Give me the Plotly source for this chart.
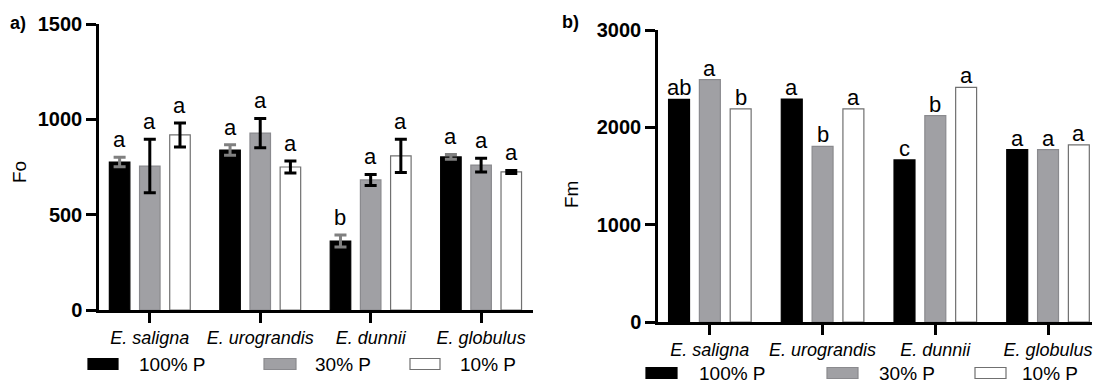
import plotly.graph_objects as go
import numpy as np

categories = ["E. saligna", "E. urograndis", "E. dunnii", "E. globulus"]
treatments = ["100% P", "30% P", "10% P"]

# Panel a: Fo
fo_100 = [776, 839, 362, 803]
fo_100_err = [25, 28, 32, 13]
fo_30 = [755, 928, 682, 760]
fo_30_err = [140, 77, 29, 36]
fo_10 = [918, 750, 808, 724]
fo_10_err = [63, 32, 87, 8]
fo_letters_100 = ["a", "a", "b", "a"]
fo_letters_30 = ["a", "a", "a", "a"]
fo_letters_10 = ["a", "a", "a", "a"]

# Panel b: Fm
fm_100 = [2288, 2290, 1665, 1770]
fm_30 = [2490, 1805, 2120, 1770]
fm_10 = [2190, 2190, 2410, 1820]
fm_letters_100 = ["ab", "a", "c", "a"]
fm_letters_30 = ["a", "b", "b", "a"]
fm_letters_10 = ["b", "a", "a", "a"]

FONT = "Liberation Sans, Arial, sans-serif"
fills = ["#000000", "#a0a0a4", "#ffffff"]
lines = ["#000000", "#8a8a8e", "#707070"]
errcols = ["#808080", "#000000", "#000000"]

BARGAP = 0.18
BARGROUPGAP = 0.32
slot = (1 - BARGAP) / 3

x = np.arange(len(categories))
W, H = 1097, 385

fig = go.Figure()

fo_vals = [fo_100, fo_30, fo_10]
fo_errs = [fo_100_err, fo_30_err, fo_10_err]
fo_lets = [fo_letters_100, fo_letters_30, fo_letters_10]
fm_vals = [fm_100, fm_30, fm_10]
fm_lets = [fm_letters_100, fm_letters_30, fm_letters_10]

annotations = []
for j, t in enumerate(treatments):
    fig.add_trace(go.Bar(
        x=x, y=fo_vals[j], name=t, xaxis="x", yaxis="y",
        marker=dict(color=fills[j], line=dict(color=lines[j], width=1.2)),
        error_y=dict(type="data", array=fo_errs[j], color=errcols[j], thickness=3, width=6),
        showlegend=False, offsetgroup=str(j),
    ))
    fig.add_trace(go.Bar(
        x=x, y=fm_vals[j], name=t, xaxis="x2", yaxis="y2",
        marker=dict(color=fills[j], line=dict(color=lines[j], width=1.2)),
        showlegend=False, offsetgroup=str(j),
    ))
    for i in range(len(categories)):
        xp = x[i] + (j - 1) * slot
        annotations.append(dict(
            x=xp, y=fo_vals[j][i] + fo_errs[j][i], xref="x", yref="y",
            text=fo_lets[j][i], showarrow=False, yanchor="bottom", yshift=3,
            font=dict(family=FONT, size=22, color="black")))
        annotations.append(dict(
            x=xp, y=fm_vals[j][i], xref="x2", yref="y2",
            text=fm_lets[j][i], showarrow=False, yanchor="bottom", yshift=-3,
            font=dict(family=FONT, size=22, color="black")))

def px(xx):
    return xx / W

def py(yy):
    return 1 - yy / H

# Panel labels and axis titles
annotations += [
    dict(x=px(8), y=py(23), xref="paper", yref="paper", text="<b>a)</b>", showarrow=False,
         xanchor="left", yanchor="middle", font=dict(family=FONT, size=18, color="black")),
    dict(x=px(560), y=py(22), xref="paper", yref="paper", text="<b>b)</b>", showarrow=False,
         xanchor="left", yanchor="middle", font=dict(family=FONT, size=18, color="black")),
    dict(x=px(20), y=py(172), xref="paper", yref="paper", text="Fo", showarrow=False,
         textangle=-90, xanchor="center", yanchor="middle", font=dict(family=FONT, size=19, color="black")),
    dict(x=px(572), y=py(195), xref="paper", yref="paper", text="Fm", showarrow=False,
         textangle=-90, xanchor="center", yanchor="middle", font=dict(family=FONT, size=19, color="black")),
]

# Legends drawn manually
shapes = []
legend_specs = [
    (364, [(88, 118, 137), (264, 296, 313), (410, 440, 458)]),
    (373, [(646, 677, 697), (827, 858, 877), (975, 1006, 1020)]),
]
for yc, items in legend_specs:
    for j, (x0, x1, xt) in enumerate(items):
        shapes.append(dict(type="rect", xref="paper", yref="paper",
                           x0=px(x0), x1=px(x1), y0=py(yc + 5.5), y1=py(yc - 5.5),
                           fillcolor=fills[j], line=dict(color=lines[j] if j else "#000000", width=1.2)))
        annotations.append(dict(x=px(xt), y=py(yc), xref="paper", yref="paper", text=treatments[j],
                                showarrow=False, xanchor="left", yanchor="middle",
                                font=dict(family=FONT, size=19, color="black")))

ticktext = ["<i>%s</i>" % c for c in categories]
xcommon = dict(showline=True, linecolor="black", linewidth=2.5, ticks="outside", ticklen=10,
               tickwidth=2.5, tickcolor="black", tickvals=list(x), ticktext=ticktext,
               tickfont=dict(family=FONT, size=18, color="black"), showgrid=False, zeroline=False,
               fixedrange=True, automargin=False)
ycommon = dict(showline=True, linecolor="black", linewidth=2.5, ticks="outside", ticklen=10,
               tickwidth=2.5, tickcolor="black",
               tickfont=dict(family=FONT, size=20, color="black", weight="bold"),
               showgrid=False, zeroline=False, automargin=False)

fig.update_layout(
    width=W, height=H, margin=dict(l=0, r=0, t=0, b=0),
    paper_bgcolor="white", plot_bgcolor="white",
    barmode="group", bargap=BARGAP, bargroupgap=BARGROUPGAP,
    xaxis=dict(domain=[px(99), px(533)], range=[-0.46, 3.47], anchor="y", **xcommon),
    yaxis=dict(domain=[py(310), py(24)], range=[0, 1500], tickvals=[0, 500, 1000, 1500], anchor="x", **ycommon),
    xaxis2=dict(domain=[px(658), px(1092)], range=[-0.46, 3.39], anchor="y2", **xcommon),
    yaxis2=dict(domain=[py(322), py(30)], range=[0, 3000], tickvals=[0, 1000, 2000, 3000], anchor="x2", **ycommon),
    annotations=annotations, shapes=shapes, showlegend=False,
)

fig.write_html("out.html")
